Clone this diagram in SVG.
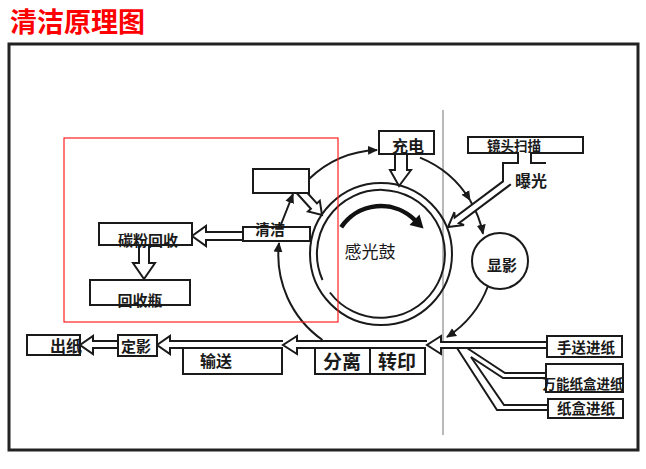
<svg xmlns="http://www.w3.org/2000/svg" width="646" height="469" viewBox="0 0 646 469">
<defs>
<style>
.ln{fill:none;stroke:#1a1a1a;stroke-width:2}
.box{fill:#fff;stroke:#1a1a1a;stroke-width:2}
.hol{fill:#fff;stroke:#1a1a1a;stroke-width:2;stroke-linejoin:miter}
.lbl{font-family:"Noto Sans CJK SC","Noto Sans CJK TC",sans-serif;font-weight:bold;fill:#1a1a1a;text-anchor:middle}
</style>
<marker id="ah" viewBox="0 0 10 10" refX="9" refY="5" markerWidth="10" markerHeight="10" markerUnits="userSpaceOnUse" orient="auto">
<path d="M0,0.5 L10,5 L0,9.5 z" fill="#1a1a1a"/>
</marker>
</defs>
<rect width="646" height="469" fill="#fff"/>
<text x="10" y="32" font-family="'Noto Sans CJK SC',sans-serif" font-weight="bold" font-size="27" fill="#ff0000">清洁原理图</text>
<rect x="9" y="44" width="629" height="406" fill="none" stroke="#222" stroke-width="3"/>
<line x1="443" y1="110" x2="443" y2="435" stroke="#8a8a8a" stroke-width="1.2"/>

<g id="connectors">
<path class="ln" d="M309,179 A104,104 0 0,1 377,150" marker-end="url(#ah)"/>
<path class="ln" d="M420,157.6 A104,104 0 0,1 470,200.2" marker-end="url(#ah)"/>
<path class="ln" d="M470,200.2 A104,104 0 0,1 483,233.7" marker-end="url(#ah)"/>
<path class="ln" d="M488,286 A104,104 0 0,1 447,337" marker-end="url(#ah)"/>
<path class="ln" d="M322.5,340 A104,104 0 0,1 279,243" marker-end="url(#ah)"/>
<path class="ln" d="M280,227 L293,194" marker-end="url(#ah)"/>
<path class="hol" d="M296.6,193 L310.9,208.8 L308,211.5 L322,215 L319.8,200.7 L316.9,203.4 L307.5,193"/>
<path class="hol" d="M395,154 V170 H390 L399,186 L411,170 H407 V154"/>
<path class="hol" d="M243,232 H206 V226 L192,236 L206,246 V240 H243"/>
<path class="hol" d="M139,245 V263 H133 L144,279 L155,263 H149 V245"/>
<path class="hol" d="M118,341 H93 V336 L80,345 L93,354 V348 H118"/>
<path class="hol" d="M283,341 H170 V336 L157,345 L170,354 V348 H183"/>
<path class="hol" d="M427,341 H297 V336 L283,345 L297,354 V348 H315"/>
<path class="hol" d="M547,342 H441 V336 L427,345 L441,354 V348 H547"/>
<path class="ln" d="M467,348 L505,373 H546"/>
<path class="ln" d="M471,357 L503,378 H546"/>
<path class="ln" d="M457,348 L497,410 H548"/>
<path class="ln" d="M471,357 L504,405 H548"/>
</g>

<g id="drum">
<circle cx="381" cy="254" r="71" class="ln"/>
<path class="ln" d="M322.5,280 A64,64 0 1,1 329.9,292.5"/>
<path d="M341.2,227.2 A48,48 0 0,1 414.9,220.1" fill="none" stroke="#111" stroke-width="4.5"/>
<path d="M423.5,228.5 L409.5,225 L419.5,214.5 z" fill="#111"/>
<text class="lbl" x="370" y="258" font-size="17" style="font-weight:normal">感光鼓</text>
</g>

<g id="charge">
<rect class="box" x="379" y="131" width="55" height="23"/>
<text class="lbl" x="408" y="152" font-size="16">充电</text>
</g>

<g id="scan">
<rect class="box" x="468" y="137" width="115" height="16"/>
<path class="hol" d="M518,153.5 V163 H503 V181.4 L454.7,217.6 L454.4,212.2 L448,227 L464,225 L458.9,223.2 L510.9,184.2"/>
<path class="ln" d="M531,153.5 V163 H546"/>
<rect x="519" y="152" width="11" height="3" fill="#fff"/>
<text class="lbl" x="514" y="151" font-size="13.5">镜头扫描</text>
<text class="lbl" x="531" y="187" font-size="16">曝光</text>
</g>

<g id="develop">
<circle class="box" cx="500" cy="261" r="28"/>
<text class="lbl" x="502" y="271" font-size="15">显影</text>
</g>

<g id="blank">
<rect class="box" x="253" y="169" width="56" height="24"/>
</g>

<g id="clean">
<rect class="box" x="243" y="227" width="67" height="14"/>
<text class="lbl" x="270" y="235" font-size="15">清洁</text>
</g>

<g id="toner">
<rect class="box" x="99" y="223" width="93" height="22"/>
<text class="lbl" x="148" y="246" font-size="15">碳粉回收</text>
</g>

<g id="bottle">
<rect class="box" x="90" y="280" width="100" height="25"/>
<text class="lbl" x="140" y="306" font-size="15">回收瓶</text>
</g>

<g id="out">
<rect class="box" x="27" y="335" width="53" height="20"/>
<text class="lbl" x="66" y="352" font-size="16">出纸</text>
</g>

<g id="fix">
<rect class="box" x="118" y="335" width="39" height="21"/>
<text class="lbl" x="136" y="352" font-size="15">定影</text>
</g>

<g id="convey">
<rect class="box" x="183" y="348" width="99" height="26"/>
<text class="lbl" x="216" y="367" font-size="16">输送</text>
</g>

<g id="transfer">
<rect class="box" x="315" y="348" width="110" height="26"/>
<line class="ln" x1="370" y1="348" x2="370" y2="374"/>
<text class="lbl" x="342" y="369" font-size="19">分离</text>
<text class="lbl" x="397" y="369" font-size="19">转印</text>
</g>

<g id="manual">
<rect class="box" x="547" y="336" width="75" height="21"/>
<text class="lbl" x="586" y="353" font-size="14.5">手送进纸</text>
</g>

<g id="universal">
<rect class="box" x="546" y="364" width="77" height="28"/>
<text class="lbl" x="583" y="389" font-size="13.5">万能纸盒进纸</text>
</g>

<g id="cassette">
<rect class="box" x="548" y="399" width="75" height="19"/>
<text class="lbl" x="586" y="414" font-size="14.5">纸盒进纸</text>
</g>

<rect x="64" y="138" width="274" height="184" fill="none" stroke="#ff2020" stroke-width="1.2"/>
</svg>
